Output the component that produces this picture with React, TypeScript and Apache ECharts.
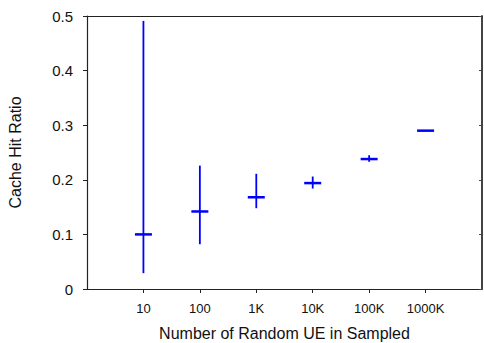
import React, { useEffect, useRef } from "react";
import * as echarts from "echarts";

const categories = ["10", "100", "1K", "10K", "100K", "1000K"];
const meanValues = [0.1, 0.142, 0.168, 0.194, 0.238, 0.29];
const lowValues = [0.029, 0.082, 0.148, 0.184, 0.233, 0.289];
const highValues = [0.491, 0.226, 0.211, 0.206, 0.245, 0.291];
const yTicks = [0, 0.1, 0.2, 0.3, 0.4, 0.5];

export default function App() {
  const ref = useRef<HTMLDivElement>(null);
  useEffect(() => {
    if (!ref.current) return;
    const chart = echarts.init(ref.current, undefined, { renderer: "svg" });
    const data = categories.map((c, i) => [i + 1, meanValues[i], lowValues[i], highValues[i]]);
    const positions = categories.map((_, i) => i + 1);
    const font = "'Liberation Sans', Arial, sans-serif";
    chart.setOption({
      animation: false,
      grid: { left: 87, right: 2, top: 16, bottom: 54, show: false, containLabel: false, outerBoundsMode: "none" },
      xAxis: [
        {
          type: "value",
          min: 0,
          max: 7,
          interval: 1,
          splitLine: { show: false },
          axisLine: { show: true, onZero: false, lineStyle: { color: "#222", width: 1.2 } },
          axisTick: { show: true, inside: false, length: 4, customValues: positions, lineStyle: { color: "#222" } },
          axisLabel: {
            customValues: positions,
            formatter: (v: number) => categories[Math.round(v) - 1] ?? "",
            color: "#111",
            fontSize: 13,
            fontFamily: font,
            margin: 13,
          },
          name: "Number of Random UE in Sampled",
          nameLocation: "middle",
          nameGap: 36,
          nameTextStyle: { color: "#111", fontSize: 16, fontFamily: font },
        },
        {
          type: "value",
          position: "top",
          min: 0,
          max: 7,
          splitLine: { show: false },
          axisLine: { show: true, onZero: false, lineStyle: { color: "#222", width: 1.2 } },
          axisTick: { show: false },
          axisLabel: { show: false },
        },
      ],
      yAxis: [
        {
          type: "value",
          min: 0,
          max: 0.5,
          interval: 0.1,
          splitLine: { show: false },
          axisLine: { show: true, onZero: false, lineStyle: { color: "#222", width: 1.2 } },
          axisTick: { show: true, inside: false, length: 4, lineStyle: { color: "#222" } },
          axisLabel: {
            formatter: (v: number) => {
              const t = yTicks.find((y) => Math.abs(y - v) < 1e-9);
              return t === undefined ? "" : String(t);
            },
            color: "#111",
            fontSize: 15,
            fontFamily: font,
            margin: 14,
          },
          name: "Cache Hit Ratio",
          nameLocation: "middle",
          nameGap: 64,
          nameTextStyle: { color: "#111", fontSize: 16, fontFamily: font },
        },
        {
          type: "value",
          position: "right",
          min: 0,
          max: 0.5,
          interval: 0.1,
          splitLine: { show: false },
          axisLine: { show: true, onZero: false, lineStyle: { color: "#444", width: 2 } },
          axisTick: { show: true, inside: true, length: 3, lineStyle: { color: "#444" } },
          axisLabel: { show: false },
        },
      ],
      series: [
        {
          type: "custom",
          data,
          renderItem: (params: any, api: any) => {
            const x = api.value(0);
            const mean = api.coord([x, api.value(1)]);
            const low = api.coord([x, api.value(2)]);
            const high = api.coord([x, api.value(3)]);
            const half = 8.5;
            return {
              type: "group",
              children: [
                {
                  type: "line",
                  shape: { x1: mean[0], y1: high[1], x2: mean[0], y2: low[1] },
                  style: { stroke: "#0000ff", lineWidth: 1.8 },
                },
                {
                  type: "line",
                  shape: { x1: mean[0] - half, y1: mean[1], x2: mean[0] + half, y2: mean[1] },
                  style: { stroke: "#0000ff", lineWidth: 2.5 },
                },
              ],
            };
          },
        },
      ],
    });
    return () => chart.dispose();
  }, []);
  return <div ref={ref} style={{ width: 484, height: 343, position: "absolute", left: 0, top: 0 }} />;
}
